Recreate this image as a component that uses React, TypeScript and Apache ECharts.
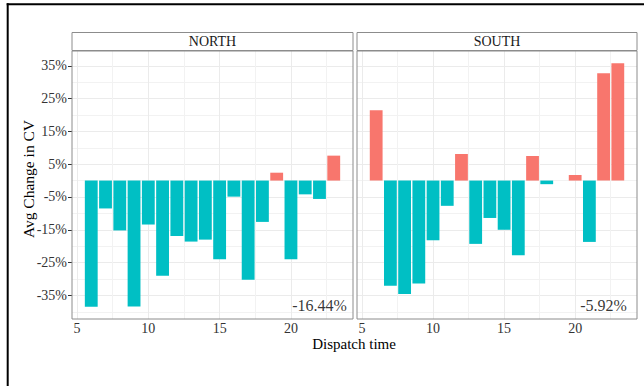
import React, { useEffect, useRef } from "react";
import * as echarts from "echarts";

const facets = ["NORTH", "SOUTH"];
const hours = [6, 7, 8, 9, 10, 11, 12, 13, 14, 15, 16, 17, 18, 19, 20, 21, 22, 23];
const northValues = [-38.5, -8.5, -15.2, -38.4, -13.4, -29.0, -16.9, -18.6, -18.0, -24.0, -4.9, -30.2, -12.6, 2.4, -24.0, -4.2, -5.6, 7.6];
const southValues = [21.4, -32.1, -34.6, -31.4, -18.2, -7.7, 8.1, -19.3, -11.4, -15.0, -22.8, 7.5, -1.1, null, 1.7, -18.7, 32.7, 35.8];
const summaryLabels = ["-16.44%", "-5.92%"];
const summaryPos = [22, -38];
const yTicks = [-35, -25, -15, -5, 5, 15, 25, 35];
const yMinor = [-40, -30, -20, -10, 0, 10, 20, 30];
const xTicks = [5, 10, 15, 20];
const xMinor = [7.5, 12.5, 17.5, 22.5];

const X_MIN = 4.65;
const X_MAX = 24.35;
const Y_MIN = -42.2;
const Y_MAX = 39.5;
const GRID_TOP = 51;
const GRID_H = 268;
const GRIDS = [
  { left: 72, width: 281 },
  { left: 357, width: 280 },
];
const FONT = "Liberation Serif, Times New Roman, serif";
const POS = "#F8766D";
const NEG = "#00BFC4";

export default function App() {
  const ref = useRef<HTMLDivElement>(null);
  useEffect(() => {
    if (!ref.current) return;
    const chart = echarts.init(ref.current, undefined, { renderer: "svg" });
    const allValues = [northValues, southValues];

    const grid = GRIDS.map((g) => ({
      left: g.left,
      top: GRID_TOP,
      width: g.width,
      height: GRID_H,
      show: true,
      borderColor: "#8c8c8c",
      borderWidth: 1,
      backgroundColor: "transparent",
      z: 4,
    }));

    const xAxis = GRIDS.map((g, i) => ({
      type: "value",
      gridIndex: i,
      min: X_MIN,
      max: X_MAX,
      splitLine: { show: false },
      axisLine: { show: false },
      axisTick: { show: true, length: 4, lineStyle: { color: "#333" }, customValues: xTicks },
      axisLabel: {
        show: true,
        customValues: xTicks,
        margin: 2,
        fontSize: 14,
        lineHeight: 14,
        fontFamily: FONT,
        color: "#333",
      },
    }));

    const yAxis = GRIDS.map((g, i) => ({
      type: "value",
      gridIndex: i,
      min: Y_MIN,
      max: Y_MAX,
      splitLine: { show: false },
      axisLine: { show: false },
      axisTick: i === 0
        ? { show: true, length: 4, lineStyle: { color: "#333" }, customValues: yTicks }
        : { show: false },
      axisLabel: i === 0
        ? {
            show: true,
            customValues: yTicks,
            margin: 5,
            fontSize: 14,
            fontFamily: FONT,
            color: "#333",
            formatter: (v: number) => `${v}%`,
          }
        : { show: false },
    }));

    const series: any[] = [];
    GRIDS.forEach((g, i) => {
      const barWidth = (0.9 * g.width) / (X_MAX - X_MIN);
      series.push({
        type: "line",
        xAxisIndex: i,
        yAxisIndex: i,
        data: [],
        z: 1,
        silent: true,
        markLine: {
          silent: true,
          z: 1,
          symbol: "none",
          label: { show: false },
          animation: false,
          data: [
            ...yTicks.map((v) => ({ yAxis: v, lineStyle: { color: "#ebebeb", width: 1, type: "solid" } })),
            ...yMinor.map((v) => ({ yAxis: v, lineStyle: { color: "#f2f2f2", width: 1, type: "solid" } })),
            ...xTicks.map((v) => ({ xAxis: v, lineStyle: { color: "#ebebeb", width: 1, type: "solid" } })),
            ...xMinor.map((v) => ({ xAxis: v, lineStyle: { color: "#f2f2f2", width: 1, type: "solid" } })),
          ],
        },
      });
      const vals = allValues[i];
      const data = hours
        .map((h, k) => (vals[k] === null ? null : [h, vals[k]]))
        .filter((d) => d !== null);
      series.push({
        type: "bar",
        xAxisIndex: i,
        yAxisIndex: i,
        data,
        barWidth,
        z: 2,
        itemStyle: {
          color: (p: any) => (p.value[1] >= 0 ? POS : NEG),
        },
      });
      series.push({
        type: "scatter",
        xAxisIndex: i,
        yAxisIndex: i,
        data: [summaryPos],
        symbolSize: 1,
        z: 3,
        itemStyle: { color: "rgba(0,0,0,0)" },
        label: {
          show: true,
          position: "inside",
          formatter: summaryLabels[i],
          fontSize: 16,
          fontFamily: FONT,
          color: "#000",
        },
      });
    });

    const graphic: any[] = [
      { type: "line", shape: { x1: 6.7, y1: 4.3, x2: 644, y2: 4.3 }, style: { stroke: "#000", lineWidth: 2 } },
      { type: "line", shape: { x1: 7.7, y1: 3.3, x2: 7.7, y2: 386 }, style: { stroke: "#000", lineWidth: 2 } },
      {
        type: "text",
        x: 28.5,
        y: 179,
        rotation: Math.PI / 2,
        style: {
          text: "Avg Change in CV",
          fontSize: 15.5,
          fontFamily: FONT,
          fill: "#000",
          align: "center",
          verticalAlign: "middle",
          textAlign: "center",
          textVerticalAlign: "middle",
        },
      },
      {
        type: "text",
        x: 354,
        y: 343.5,
        style: {
          text: "Dispatch time",
          fontSize: 15,
          lineHeight: 15,
          fontFamily: FONT,
          fill: "#000",
          align: "center",
          verticalAlign: "middle",
          textAlign: "center",
          textVerticalAlign: "middle",
        },
      },
    ];
    GRIDS.forEach((g, i) => {
      graphic.push({
        type: "rect",
        shape: { x: g.left, y: 32.5, width: g.width, height: 18 },
        style: { fill: "#fff", stroke: "#8c8c8c", lineWidth: 1 },
      });
      graphic.push({
        type: "text",
        x: g.left + g.width / 2,
        y: 41.5,
        style: {
          text: facets[i],
          fontSize: 14,
          fontFamily: FONT,
          fill: "#1a1a1a",
          align: "center",
          verticalAlign: "middle",
          textAlign: "center",
          textVerticalAlign: "middle",
        },
      });
    });

    chart.setOption({
      animation: false,
      backgroundColor: "#fff",
      grid,
      xAxis,
      yAxis,
      series,
      graphic,
    });
    return () => chart.dispose();
  }, []);

  return (
    <div
      ref={ref}
      style={{ position: "fixed", left: 0, top: 0, width: 644, height: 386 }}
    />
  );
}
